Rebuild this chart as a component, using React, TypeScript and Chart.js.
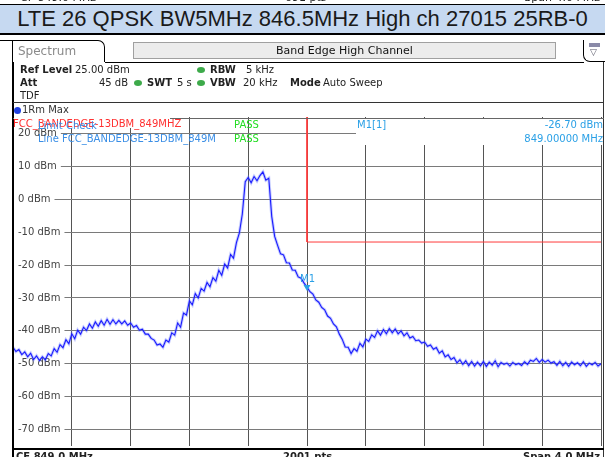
import React, { useEffect, useRef } from 'react';
import { Chart, registerables } from 'chart.js';

Chart.register(...registerables);

// ---- data ----
const FREQ_START_MHZ = 847;
const FREQ_STEP_MHZ = 0.02;
const traceDbm: number[] = [
  -45.0, -46.3, -45.7, -47.2, -46.4, -47.9, -46.8, -48.7, -47.6, -49.0,
  -47.9, -48.8, -46.9, -47.6, -45.4, -46.5, -44.2, -45.1, -42.7, -43.9,
  -40.9, -42.4, -39.8, -41.0, -38.9, -39.9, -37.9, -39.2, -37.3, -38.6,
  -36.9, -38.3, -36.5, -38.0, -36.6, -37.9, -36.8, -37.9, -37.0, -38.3,
  -37.6, -38.9, -38.4, -39.8, -39.5, -41.0, -41.0, -42.3, -42.8, -44.3,
  -44.0, -45.0, -42.8, -43.4, -40.6, -41.3, -37.6, -38.9, -34.6, -35.2,
  -30.9, -32.1, -28.7, -30.0, -27.1, -27.9, -25.3, -26.6, -23.8, -24.9,
  -21.6, -23.1, -19.7, -20.9, -16.8, -17.9, -13.2, -10.2, -4.5, 5.3,
  6.6, 5.0, 6.9, 5.6, 7.2, 8.3, 5.8, 6.4, -5.2, -11.3,
  -14.0, -16.6, -16.9, -19.3, -19.4, -21.5, -21.6, -23.6, -24.0, -25.5,
  -26.7, -28.1, -28.8, -30.6, -31.3, -32.9, -33.6, -35.5, -36.2, -37.9,
  -38.8, -41.0, -42.6, -44.9, -45.0, -46.9, -45.4, -46.2, -43.8, -44.9,
  -42.5, -43.2, -41.2, -42.0, -40.0, -41.3, -39.6, -40.9, -39.3, -40.6,
  -39.4, -40.9, -40.0, -41.5, -40.6, -42.2, -41.7, -43.0, -42.8, -43.7,
  -43.4, -44.7, -44.3, -45.6, -45.1, -46.8, -46.1, -47.9, -47.3, -48.7,
  -48.1, -49.7, -48.8, -50.2, -49.1, -50.6, -49.3, -50.7, -49.5, -50.6,
  -49.3, -50.8, -49.5, -50.4, -49.1, -50.9, -49.6, -50.2, -49.8, -50.7,
  -49.6, -50.3, -49.9, -50.5, -49.4, -50.2, -48.9, -49.3, -48.4, -49.6,
  -48.7, -49.5, -48.9, -49.8, -49.4, -50.5, -49.3, -50.6, -49.6, -50.8,
  -49.5, -50.3, -49.7, -50.6, -49.4, -50.8, -49.8, -50.3, -49.6, -50.7,
  -50.0,
];
const yTickValues = [20, 10, 0, -10, -20, -30, -40, -50, -60, -70];
const xGridValues = [847, 847.4, 847.8, 848.2, 848.6, 849, 849.4, 849.8, 850.2, 850.6, 851];
const refLevelDbm = 25;
const bottomDbm = -75;
const limitFreq = [849, 849, 851];
const limitDbm = [25, -13, -13];
const markerFreq = [849];
const markerDbm = [-26.7];

const PANEL_FONT = '"DejaVu Sans", Verdana, sans-serif';

const markerLabelPlugin = {
  id: 'markerLabel',
  afterDatasetsDraw(chart: any) {
    const { ctx, scales } = chart;
    const px = scales.x.getPixelForValue(markerFreq[0]);
    const py = scales.y.getPixelForValue(markerDbm[0]);
    ctx.save();
    ctx.fillStyle = '#2aa0e6';
    ctx.font = '10px ' + PANEL_FONT;
    ctx.textAlign = 'left';
    ctx.textBaseline = 'bottom';
    ctx.fillText('M1', px - 7, py - 3);
    ctx.restore();
  },
};

function Txt(props: { x: number; y: number; children: any; bold?: boolean; color?: string; size?: number; right?: boolean }) {
  const style: any = {
    position: 'absolute',
    top: props.y,
    fontFamily: PANEL_FONT,
    fontSize: props.size ?? 10,
    fontWeight: props.bold ? 'bold' : 'normal',
    color: props.color ?? '#222',
    whiteSpace: 'nowrap',
    lineHeight: '12px',
  };
  if (props.right) style.right = 605 - props.x;
  else style.left = props.x;
  return <div style={style}>{props.children}</div>;
}

function Dot(props: { x: number; y: number }) {
  return (
    <div
      style={{
        position: 'absolute',
        left: props.x,
        top: props.y,
        width: 8,
        height: 6,
        borderRadius: '50%',
        background: '#3daa4a',
      }}
    />
  );
}

function Box(props: { x: number; y: number; w: number; h: number; bg: string; extra?: any }) {
  return (
    <div
      style={{
        position: 'absolute',
        left: props.x,
        top: props.y,
        width: props.w,
        height: props.h,
        background: props.bg,
        ...(props.extra || {}),
      }}
    />
  );
}

export default function App() {
  const canvasRef = useRef<HTMLCanvasElement | null>(null);

  useEffect(() => {
    document.body.style.margin = '0';
    const canvas = canvasRef.current;
    if (!canvas) return;
    const tracePoints = traceDbm.map((v, i) => ({ x: FREQ_START_MHZ + i * FREQ_STEP_MHZ, y: v }));
    const limitPoints = limitFreq.map((f, i) => ({ x: f, y: limitDbm[i] }));
    const markerPoints = markerFreq.map((f, i) => ({ x: f, y: markerDbm[i] }));

    const chart = new Chart(canvas, {
      type: 'line',
      data: {
        datasets: [
          {
            data: markerPoints,
            showLine: false,
            pointStyle: 'triangle',
            rotation: 180,
            pointRadius: 4,
            pointBackgroundColor: '#2aa0e6',
            pointBorderColor: '#2aa0e6',
            borderWidth: 0,
          } as any,
          {
            data: tracePoints,
            borderColor: '#1a1aff',
            borderWidth: 1.1,
            pointRadius: 0,
            tension: 0,
          },
          {
            data: tracePoints,
            borderColor: 'rgba(90,110,255,0.35)',
            borderWidth: 3,
            pointRadius: 0,
            tension: 0,
          },
          {
            data: limitPoints,
            borderColor: '#ff3b3b',
            borderWidth: 1,
            pointRadius: 0,
            tension: 0,
          },
        ],
      },
      options: {
        animation: false,
        responsive: false,
        maintainAspectRatio: false,
        layout: { padding: { left: 13, top: 117, right: 1, bottom: 7 } },
        plugins: { legend: { display: false }, tooltip: { enabled: false } },
        scales: {
          x: {
            type: 'linear',
            min: xGridValues[0],
            max: xGridValues[xGridValues.length - 1],
            afterFit: (s: any) => {
              s.height = 0;
            },
            afterBuildTicks: (s: any) => {
              s.ticks = xGridValues.map((v) => ({ value: v }));
            },
            ticks: { display: false },
            grid: { color: '#555', lineWidth: 1, drawTicks: false },
            border: { display: false },
          },
          y: {
            type: 'linear',
            min: bottomDbm,
            max: refLevelDbm,
            afterFit: (s: any) => {
              s.width = 0;
            },
            afterBuildTicks: (s: any) => {
              s.ticks = yTickValues.map((v) => ({ value: v }));
            },
            ticks: {
              mirror: true,
              padding: 5,
              color: '#444',
              font: { family: PANEL_FONT, size: 10 },
              callback: (v: any) => `${v} dBm`,
              showLabelBackdrop: true,
              backdropColor: '#ffffff',
              backdropPadding: { left: 5, right: 4, top: 0, bottom: 0 },
            } as any,
            grid: { color: '#7a7a7a', lineWidth: 1, drawTicks: false },
            border: { display: false },
          },
        },
      },
      plugins: [markerLabelPlugin],
    });
    return () => chart.destroy();
  }, []);

  return (
    <div style={{ position: 'fixed', left: 0, top: 0, width: 605, height: 457, overflow: 'hidden', background: '#fff' }}>
      <canvas ref={canvasRef} width={605} height={457} style={{ position: 'absolute', left: 0, top: 0, width: 605, height: 457 }} />
      {/* previous strip, cut off */}
      <div style={{ position: 'absolute', left: 0, top: 0, width: 605, height: 4, overflow: 'hidden' }}>
        <Txt x={20} y={-8} size={11}>CF 849.0 MHz</Txt>
        <Txt x={285} y={-8} size={11}>691 pts</Txt>
        <Txt x={600} y={-8} size={11} right>Span 4.0 MHz</Txt>
      </div>
      <Box x={0} y={4} w={605} h={1} bg="#000" />
      <div
        style={{
          position: 'absolute',
          left: 0,
          top: 5,
          width: 605,
          height: 28,
          background: '#c6d9f1',
          textAlign: 'center',
          lineHeight: '28px',
          fontFamily: '"Liberation Sans", Arial, sans-serif',
          fontSize: 22,
          color: '#1a1a1a',
          whiteSpace: 'nowrap',
        }}
      >
        LTE 26 QPSK BW5MHz 846.5MHz High ch 27015 25RB-0
      </div>
      <Box x={0} y={33} w={605} h={2} bg="#000" />

      {/* panel frame */}
      <Box x={0} y={40} w={14} h={1} bg="#000" />
      <Box x={12} y={40} w={2} h={417} bg="#000" />
      <Box x={603} y={62} w={1} h={395} bg="#333" />
      <Box
        x={13}
        y={40}
        w={91}
        h={21}
        bg="#fff"
        extra={{ borderTop: '1px solid #000', borderRight: '1px solid #000', borderTopRightRadius: 7 }}
      />
      <Txt x={18} y={45} size={12} color="#8a8a8a">Spectrum</Txt>
      <Box x={105} y={62} w={479} h={1} bg="#000" />
      <div
        style={{
          position: 'absolute',
          left: 133,
          top: 42,
          width: 421,
          height: 15,
          background: '#ececec',
          border: '1px solid #a0a0a0',
          textAlign: 'center',
          lineHeight: '15px',
          fontFamily: PANEL_FONT,
          fontSize: 11,
          color: '#111',
        }}
      >
        Band Edge High Channel
      </div>
      <Box
        x={583}
        y={40}
        w={21}
        h={21}
        bg="#fff"
        extra={{ borderLeft: '1px solid #000', borderBottom: '1px solid #000', borderBottomLeftRadius: 7 }}
      />
      <Box x={589} y={43} w={11} h={4} bg="#8a8aa8" />
      <Txt x={590} y={46} size={9} color="#556">▽</Txt>

      {/* info rows */}
      <Txt x={20} y={64} bold>Ref Level</Txt>
      <Txt x={75} y={64}>25.00 dBm</Txt>
      <Dot x={197} y={67} />
      <Txt x={210} y={64} bold>RBW</Txt>
      <Txt x={246} y={64}>5 kHz</Txt>
      <Txt x={20} y={77} bold>Att</Txt>
      <Txt x={128} y={77} right>45 dB</Txt>
      <Dot x={134} y={80} />
      <Txt x={147} y={77} bold>SWT</Txt>
      <Txt x={177} y={77}>5 s</Txt>
      <Dot x={197} y={80} />
      <Txt x={210} y={77} bold>VBW</Txt>
      <Txt x={243} y={77}>20 kHz</Txt>
      <Txt x={290} y={77} bold>Mode</Txt>
      <Txt x={323} y={77}>Auto Sweep</Txt>
      <Txt x={20} y={90}>TDF</Txt>
      <Box x={13} y={102} w={591} h={1} bg="#333" />
      <div
        style={{ position: 'absolute', left: 14, top: 107, width: 7, height: 7, borderRadius: '50%', background: '#1f3fe0' }}
      />
      <Txt x={22} y={104} color="#333">1Rm Max</Txt>
      <Box x={13} y={118} w={591} h={1} bg="#666" />

      {/* limit check texts */}
      <Box x={14} y={116} w={156} h={12} bg="#fff" />
      <Txt x={13} y={118} color="#ff3030">FCC_BANDEDGE-13DBM_849MHZ</Txt>
      <Txt x={38} y={120} color="#3a8ee6">Limit Check</Txt>
      <Txt x={38} y={133} color="#3a8ee6">Line FCC_BANDEDGE-13DBM_849M</Txt>
      <Txt x={234} y={119} color="#22dd22">PASS</Txt>
      <Txt x={234} y={133} color="#22dd22">PASS</Txt>

      {/* marker info */}
      <Box x={356} y={119} w={247} h={26} bg="#fff" />
      <Txt x={357} y={119} color="#2aa0e6">M1[1]</Txt>
      <Txt x={603} y={119} color="#2aa0e6" right>-26.70 dBm</Txt>
      <Txt x={603} y={133} color="#2aa0e6" right>849.00000 MHz</Txt>

      {/* bottom */}
      <Box x={13} y={448} w={591} h={2} bg="#000" />
      <Txt x={16} y={451} bold>CF 849.0 MHz</Txt>
      <Txt x={283} y={451} bold>2001 pts</Txt>
      <Txt x={600} y={451} bold right>Span 4.0 MHz</Txt>
    </div>
  );
}
